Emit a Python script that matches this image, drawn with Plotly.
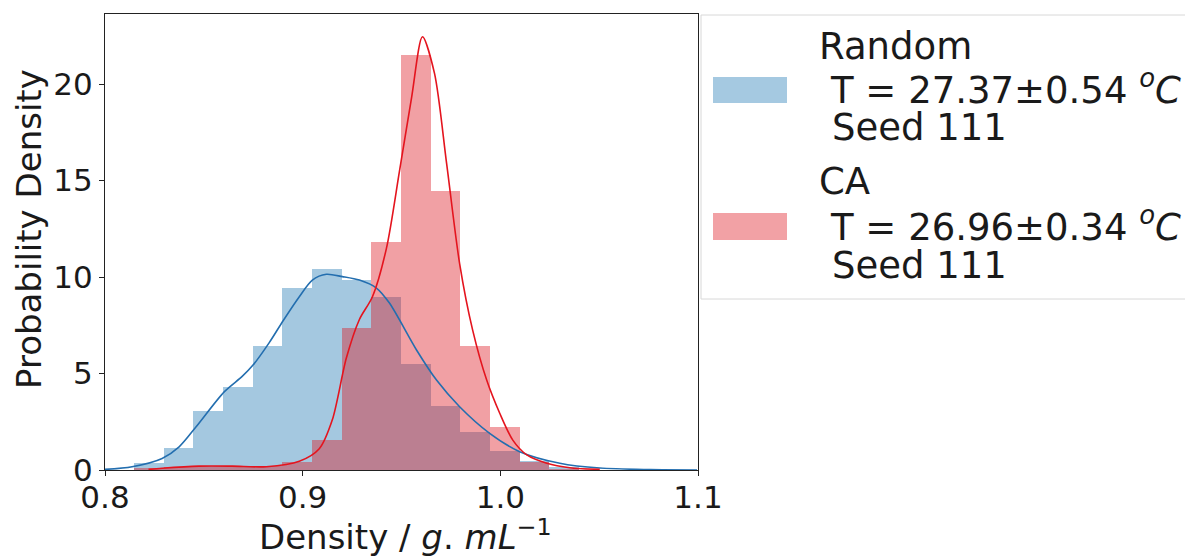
import plotly.graph_objects as go

# ---------------- data ----------------
bin_lefts = [0.8147, 0.8297, 0.8447, 0.8597, 0.8747, 0.8897, 0.9047, 0.9197,
             0.9347, 0.9497, 0.9647, 0.9797, 0.9947, 1.0097, 1.0247]
bin_width = 0.015
random_hist = [0.35, 1.12, 3.06, 4.32, 6.44, 9.45, 10.43, 9.86,
               8.95, 5.49, 3.32, 1.98, 1.0, 0.45, 0.15]
ca_hist = [0.1, 0.15, 0.2, 0.2, 0.2, 0.4, 1.55, 7.34,
           11.83, 21.5, 14.46, 6.44, 2.21, 0.4, 0.05]

random_kde_x = [0.8, 0.8137, 0.8289, 0.8375, 0.8461, 0.8603, 0.8694, 0.875,
                0.8831, 0.8902, 0.8983, 0.9049, 0.912, 0.9201, 0.9287, 0.9373,
                0.9439, 0.9576, 0.9677, 0.9794, 0.9946, 1.0098,
                1.0301, 1.0503, 1.0757, 1.0995]
random_kde_y = [0.03, 0.17, 0.6, 1.2, 2.24, 4.05, 4.85, 5.45,
                6.6, 7.75, 8.98, 9.84, 10.14, 10.02, 9.84, 9.43,
                8.65, 6.22, 4.66, 3.28, 1.9, 0.95,
                0.35, 0.1, 0.02, 0.0]

ca_kde_x = [0.822, 0.8289, 0.8476, 0.8644, 0.8816, 0.8983, 0.9084, 0.915,
            0.9221, 0.9287, 0.9353, 0.9424, 0.949, 0.9551, 0.9606, 0.9667,
            0.9728, 0.9794, 0.986, 0.9931, 0.9997, 1.0063, 1.0134, 1.0235,
            1.0351, 1.0503]
ca_kde_y = [0.03, 0.09, 0.2, 0.2, 0.17, 0.45, 1.1, 2.6,
            5.8, 7.8, 8.98, 11.5, 15.5, 19.3, 22.45, 20.55,
            15.9, 10.7, 7.25, 4.66, 2.94, 1.55, 0.78, 0.35,
            0.12, 0.03]

series_names = ["Random", "CA"]
series_temps = ["T = 27.37±0.54", "T = 26.96±0.34"]
seed_label = "Seed 111"

x_ticks = [0.8, 0.9, 1.0, 1.1]
x_ticklabels = ["0.8", "0.9", "1.0", "1.1"]
y_ticks = [0, 5, 10, 15, 20]
x_title = "Density / <i>g</i>. <i>mL</i><sup>−1</sup>"
y_title = "Probability Density"

# ---------------- styles ----------------
BLUE = "rgb(31,119,180)"
BLUE_LINE = "rgb(35,110,175)"
RED = "rgb(222,20,30)"
RED_LINE = "rgb(228,20,30)"
FONT = "DejaVu Sans"
TXT = "#1a1a1a"

# page body has an 8px margin: lay out in window pixels and shift
OFF = 8
W, H = 1193 - OFF, 558 - OFF
L, R, T, B = 105 - OFF, 698 - OFF, 14 - OFF, 470 - OFF

fig = go.Figure()
centers = [b + bin_width / 2 for b in bin_lefts]
fig.add_trace(go.Bar(x=centers, y=random_hist, width=bin_width,
                     marker=dict(color=BLUE, line=dict(width=0)), opacity=0.4,
                     showlegend=False))
fig.add_trace(go.Bar(x=centers, y=ca_hist, width=bin_width,
                     marker=dict(color=RED, line=dict(width=0)), opacity=0.4,
                     showlegend=False))
fig.add_trace(go.Scatter(x=random_kde_x, y=random_kde_y, mode="lines",
                         line=dict(color=BLUE_LINE, width=1.6, shape="spline", smoothing=0.8),
                         showlegend=False))
fig.add_trace(go.Scatter(x=ca_kde_x, y=ca_kde_y, mode="lines",
                         line=dict(color=RED_LINE, width=1.6, shape="spline", smoothing=0.8),
                         showlegend=False))


def px2paper_x(px):
    return (px - OFF - L) / (R - L)


def px2paper_y(py):
    return (B - (py - OFF)) / (B - T)


shapes = []
annotations = []
# legend frame
shapes.append(dict(type="rect", xref="paper", yref="paper",
                   x0=px2paper_x(701), x1=px2paper_x(1230),
                   y0=px2paper_y(299), y1=px2paper_y(15),
                   line=dict(color="#d8d8d8", width=1), fillcolor="white", layer="above"))
patch_rows = [(77, 103), (213, 240)]
patch_cols = [BLUE, RED]
line_centers = [(46, 87, 127), (181, 224, 265)]
LFS = 37
for i in range(2):
    y0p, y1p = patch_rows[i]
    shapes.append(dict(type="rect", xref="paper", yref="paper",
                       x0=px2paper_x(713), x1=px2paper_x(787),
                       y0=px2paper_y(y1p), y1=px2paper_y(y0p),
                       line=dict(width=0), fillcolor=patch_cols[i], opacity=0.4,
                       layer="above"))
    c1, c2, c3 = line_centers[i]
    annotations.append(dict(text=series_names[i], x=px2paper_x(817), y=px2paper_y(c1),
                            xref="paper", yref="paper", xanchor="left", yanchor="middle",
                            showarrow=False, font=dict(family=FONT, size=LFS, color=TXT)))
    annotations.append(dict(text=series_temps[i] + " <i><sup>o</sup>C</i>",
                            x=px2paper_x(828), y=px2paper_y(c2),
                            xref="paper", yref="paper", xanchor="left", yanchor="middle",
                            showarrow=False, font=dict(family=FONT, size=LFS, color=TXT)))
    annotations.append(dict(text=seed_label, x=px2paper_x(830), y=px2paper_y(c3),
                            xref="paper", yref="paper", xanchor="left", yanchor="middle",
                            showarrow=False, font=dict(family=FONT, size=LFS, color=TXT)))

# axis titles
annotations.append(dict(text=x_title, x=px2paper_x(405), y=px2paper_y(535),
                        xref="paper", yref="paper", xanchor="center", yanchor="middle",
                        showarrow=False, font=dict(family=FONT, size=34, color=TXT)))
annotations.append(dict(text=y_title, x=px2paper_x(29), y=px2paper_y(229),
                        xref="paper", yref="paper", xanchor="center", yanchor="middle",
                        textangle=-90,
                        showarrow=False, font=dict(family=FONT, size=34, color=TXT)))

fig.update_layout(
    width=W, height=H,
    margin=dict(l=L, r=W - R, t=T, b=H - B, pad=0, autoexpand=False),
    plot_bgcolor="white", paper_bgcolor="white",
    barmode="overlay", bargap=0,
    shapes=shapes, annotations=annotations,
    font=dict(family=FONT, color=TXT),
    xaxis=dict(range=[0.8, 1.1], tickvals=x_ticks, ticktext=x_ticklabels,
               showgrid=False, zeroline=False, showline=True, mirror=True,
               linecolor="#222", linewidth=1.2, ticks="outside", ticklen=5,
               tickcolor="#222", tickfont=dict(family=FONT, size=31, color=TXT),
               ticklabelstandoff=-5),
    yaxis=dict(range=[0, 23.63], tickvals=y_ticks,
               showgrid=False, zeroline=False, showline=True, mirror=True,
               linecolor="#222", linewidth=1.2, ticks="outside", ticklen=5,
               tickcolor="#222", tickfont=dict(family=FONT, size=31, color=TXT)),
)

fig.write_html("out.html")
